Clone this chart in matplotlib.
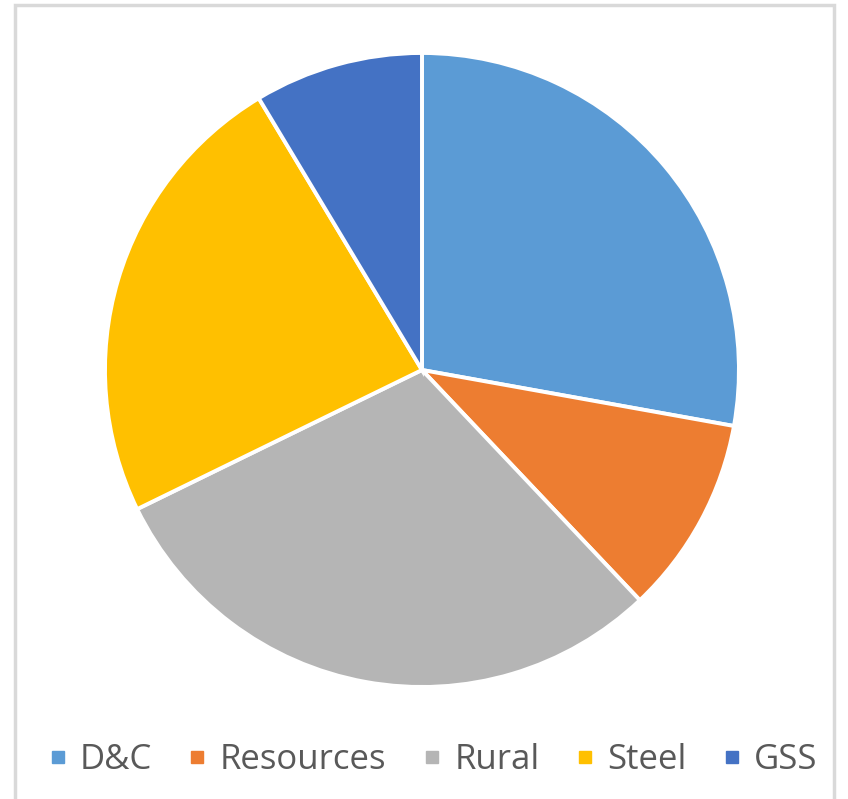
import matplotlib.pyplot as plt
from matplotlib.patches import Rectangle
from matplotlib.lines import Line2D

labels = ['D&C', 'Resources', 'Rural', 'Steel', 'GSS']
values = [27.8, 10.1, 29.8, 23.6, 8.6]
colors = ['#5B9BD5', '#ED7D31', '#B5B5B5', '#FFC000', '#4472C4']

fig = plt.figure(figsize=(8.48, 7.99), dpi=100)

# light grey frame around the chart area
fig.patches.append(Rectangle((15 / 848, -0.05), (834 - 15) / 848, 1.05 - 5 / 799,
                             transform=fig.transFigure, fill=False,
                             edgecolor='#D9D9D9', linewidth=2.5))

ax = fig.add_axes([0.1238, 0.1402, 0.7476, 0.7935])
ax.pie(values, colors=colors, startangle=90, counterclock=False,
       wedgeprops=dict(edgecolor='white', linewidth=2.8))
ax.set_aspect('auto')
ax.set_xlim(-1, 1)
ax.set_ylim(-1, 1)

handles = [Line2D([], [], marker='s', linestyle='none', markersize=9,
                  markerfacecolor=c, markeredgecolor=c) for c in colors]
fig.legend(handles, labels, loc='center', bbox_to_anchor=(0.511, 1 - 760 / 799),
           ncol=5, frameon=False, handlelength=0.5, handletextpad=0.4,
           columnspacing=1.05, borderpad=0,
           prop={'family': 'Open Sans', 'size': 25}, labelcolor='#595959')

fig.savefig('out.png', dpi=100)
